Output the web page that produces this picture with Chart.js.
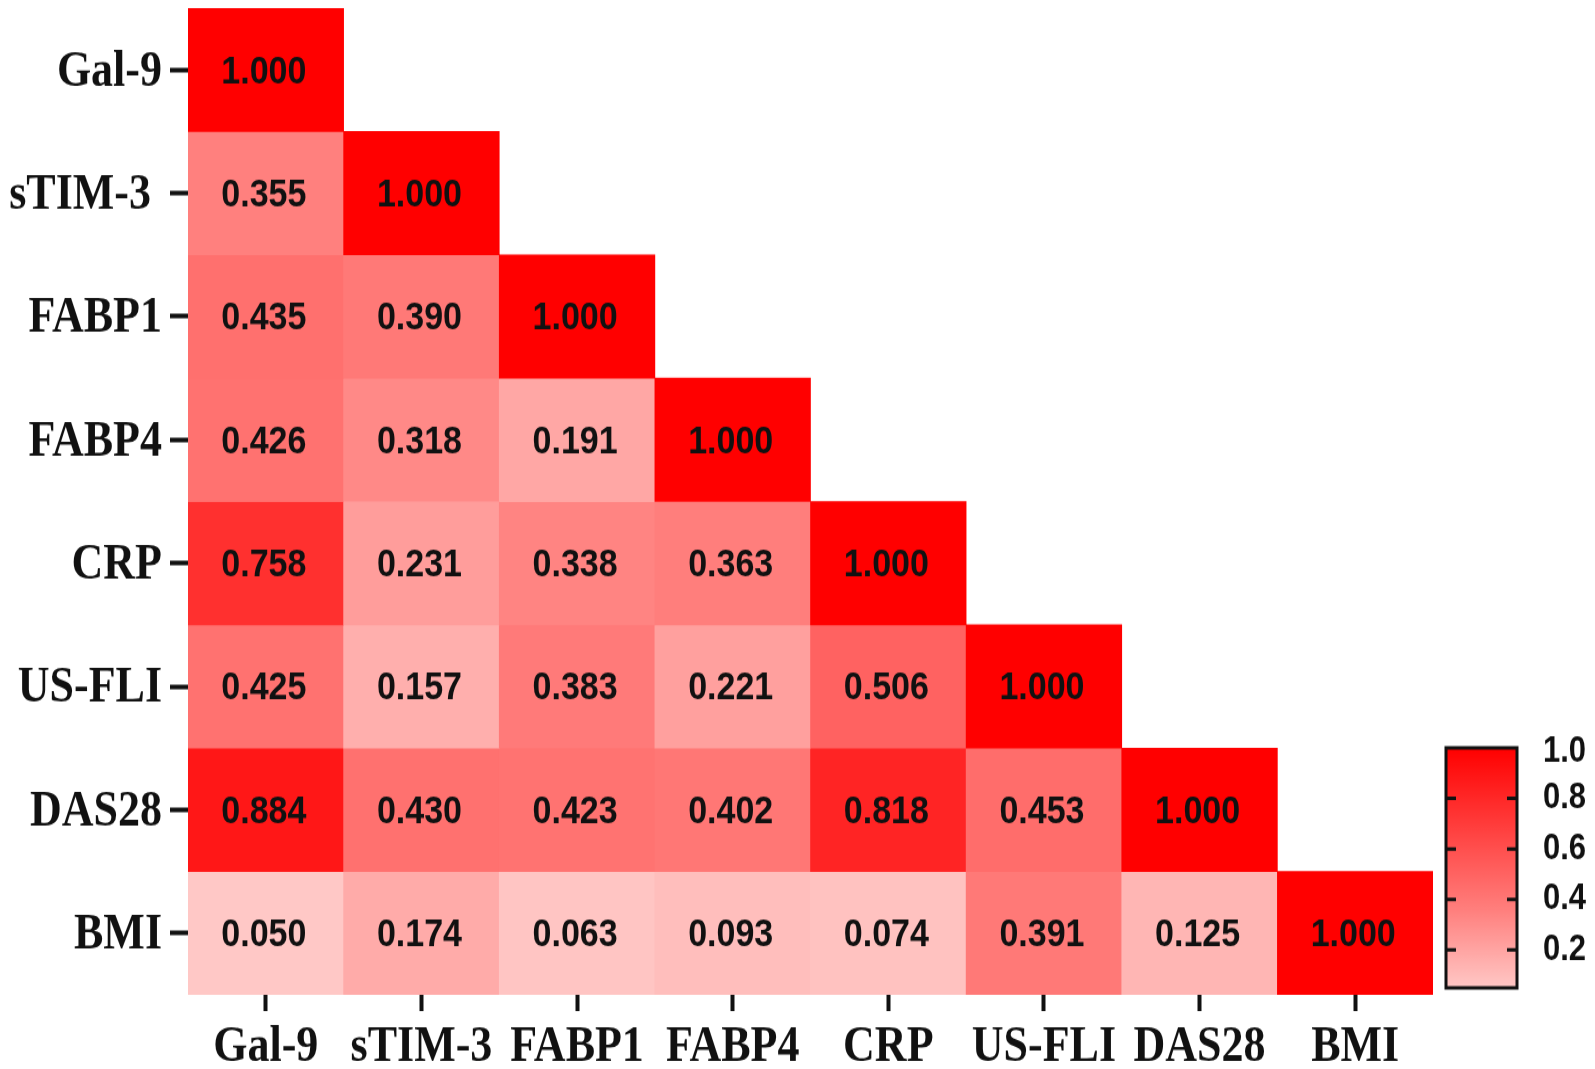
<!DOCTYPE html>
<html>
<head>
<meta charset="utf-8">
<script src="https://cdn.jsdelivr.net/npm/chart.js@4.4.1/dist/chart.umd.min.js"></script>
<style>
  html, body { margin: 0; padding: 0; background: #fff; overflow: hidden; }
  /* the source figure is stretched vertically: draw at 922px high, show at 1069px */
  #heatCanvas { display: block; width: 1595px; height: 1069px; }
</style>
</head>
<body>
<canvas id="heatCanvas" width="1595" height="922" style="width:1595px;height:1069px"></canvas>
<script>
// axis labels
const rowLabels = ['Gal-9', 'sTIM-3 ', 'FABP1', 'FABP4', 'CRP', 'US-FLI', 'DAS28', 'BMI'];
const colLabels = ['Gal-9', 'sTIM-3', 'FABP1', 'FABP4', 'CRP', 'US-FLI', 'DAS28', 'BMI'];

// lower triangle of the correlation matrix, one array per row
const gal9Row = [1.000];
const stim3Row = [0.355, 1.000];
const fabp1Row = [0.435, 0.390, 1.000];
const fabp4Row = [0.426, 0.318, 0.191, 1.000];
const crpRow = [0.758, 0.231, 0.338, 0.363, 1.000];
const usfliRow = [0.425, 0.157, 0.383, 0.221, 0.506, 1.000];
const das28Row = [0.884, 0.430, 0.423, 0.402, 0.818, 0.453, 1.000];
const bmiRow = [0.050, 0.174, 0.063, 0.093, 0.074, 0.391, 0.125, 1.000];
const matrixRows = [gal9Row, stim3Row, fabp1Row, fabp4Row, crpRow, usfliRow, das28Row, bmiRow];

// colour bar
const colorbarTicks = [0.2, 0.4, 0.6, 0.8, 1.0];
const colorMin = 0.05;
const colorMax = 1.0;
// colour map stops: value -> green/blue channel (red stays 255)
const colorStopValues = [0.05, 0.355, 1.0];
const colorStopGB = [[200, 198], [128, 126], [0, 0]];

function cellColor(v) {
    v = Math.max(colorMin, Math.min(colorMax, v));
    let i = 0;
    while (i < colorStopValues.length - 2 && v > colorStopValues[i + 1]) i++;
    const t = (v - colorStopValues[i]) / (colorStopValues[i + 1] - colorStopValues[i]);
    const g = Math.round(colorStopGB[i][0] + t * (colorStopGB[i + 1][0] - colorStopGB[i][0]));
    const b = Math.round(colorStopGB[i][1] + t * (colorStopGB[i + 1][1] - colorStopGB[i][1]));
    return `rgb(255, ${g}, ${b})`;
}

const datasets = matrixRows.map((row, r) => ({
    label: rowLabels[r],
    data: colLabels.map((c, j) => j < row.length ? [r, r + 1] : null),
    values: row,
    backgroundColor: colLabels.map((c, j) => j < row.length ? cellColor(row[j]) : 'rgba(0,0,0,0)'),
    borderWidth: 0,
    grouped: false,
    categoryPercentage: 1,
    barPercentage: 1
}));

const cellTextPlugin = {
    id: 'cellText',
    afterDatasetsDraw(chart) {
        const ctx = chart.ctx;
        ctx.save();
        ctx.font = 'bold 34px "Liberation Sans", Arial, sans-serif';
        ctx.fillStyle = '#111';
        ctx.textAlign = 'center';
        ctx.textBaseline = 'middle';
        chart.data.datasets.forEach((ds, r) => {
            const meta = chart.getDatasetMeta(r);
            ds.values.forEach((v, j) => {
                const bar = meta.data[j];
                ctx.fillText(v.toFixed(3), bar.x - 2, (bar.y + bar.base) / 2 + 2);
            });
        });
        ctx.restore();
    }
};

const colorbarPlugin = {
    id: 'colorbar',
    afterDraw(chart) {
        const ctx = chart.ctx;
        const left = 1446, right = 1517, top = 645, bottom = 852;
        const yOf = v => bottom - (v - colorMin) / (colorMax - colorMin) * (bottom - top);

        ctx.save();
        const grad = ctx.createLinearGradient(0, bottom, 0, top);
        colorStopValues.forEach(v => {
            grad.addColorStop((v - colorMin) / (colorMax - colorMin), cellColor(v));
        });
        ctx.fillStyle = grad;
        ctx.fillRect(left, top, right - left, bottom - top);

        ctx.strokeStyle = '#111';
        ctx.lineWidth = 3;
        ctx.strokeRect(left, top, right - left, bottom - top);

        ctx.font = 'bold 31px "Liberation Sans", Arial, sans-serif';
        ctx.fillStyle = '#111';
        ctx.textAlign = 'left';
        ctx.textBaseline = 'middle';
        colorbarTicks.forEach(v => {
            const y = yOf(v);
            if (v < colorMax) {
                ctx.beginPath();
                ctx.moveTo(left, y);
                ctx.lineTo(left + 10, y);
                ctx.moveTo(right, y);
                ctx.lineTo(right - 10, y);
                ctx.stroke();
            }
            ctx.fillText(v.toFixed(1), 1543, v === colorMax ? y + 3 : y);
        });
        ctx.restore();
    }
};

const serifFont = { family: '"Liberation Serif", "Times New Roman", serif', size: 44, weight: 'bold' };

new Chart(document.getElementById('heatCanvas'), {
    type: 'bar',
    data: { labels: colLabels, datasets: datasets },
    options: {
        responsive: false,
        animation: false,
        devicePixelRatio: 1,
        layout: { padding: { top: 7, right: 162, left: 0, bottom: 0 } },
        plugins: {
            legend: { display: false },
            tooltip: { enabled: false }
        },
        scales: {
            x: {
                type: 'category',
                offset: true,
                grid: { drawOnChartArea: false, tickLength: 14, tickWidth: 4, tickColor: '#111', offset: false },
                border: { display: false },
                ticks: { font: serifFont, color: '#111', padding: 5, maxRotation: 0, autoSkip: false },
                afterFit: s => {
                    s.height = 64;
                    s.paddingLeft = 0;
                    s.paddingRight = 0;
                }
            },
            y: {
                type: 'linear',
                min: 0,
                max: 8,
                reverse: true,
                afterBuildTicks: s => { s.ticks = rowLabels.map((l, i) => ({ value: i + 0.5 })); },
                grid: { drawOnChartArea: false, tickLength: 18, tickWidth: 4, tickColor: '#111' },
                border: { display: false },
                ticks: {
                    font: serifFont,
                    color: '#111',
                    padding: 8,
                    labelOffset: 2,
                    autoSkip: false,
                    callback: v => rowLabels[Math.floor(v)]
                },
                afterFit: s => {
                    s.width = 188;
                    s.paddingTop = 0;
                    s.paddingBottom = 0;
                }
            }
        }
    },
    plugins: [cellTextPlugin, colorbarPlugin]
});
</script>
</body>
</html>
